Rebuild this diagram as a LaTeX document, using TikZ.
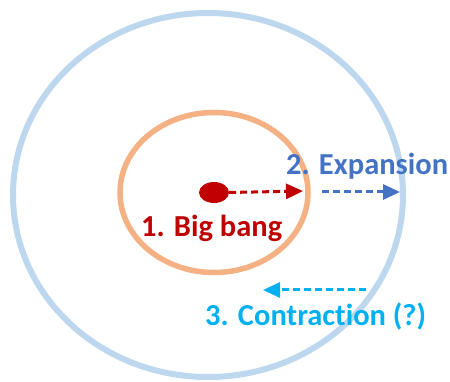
\documentclass[tikz,border=0pt]{standalone}
\usepackage{fontspec}
\setmainfont{Carlito}[Ligatures={NoCommon}]
\usetikzlibrary{arrows.meta,shapes.geometric}
\definecolor{outerblue}{HTML}{BDD7EE}
\definecolor{innerorange}{HTML}{F4B183}
\definecolor{bangred}{HTML}{C00000}
\definecolor{expblue}{HTML}{4472C4}
\definecolor{concyan}{HTML}{00B0F0}
\tikzset{
  lbl/.style={anchor=base west, inner sep=0pt, font=\fontsize{30.5}{36}\selectfont\bfseries},
  dasharrow/.style={line width=3pt, dash pattern=on 7pt off 4pt, -{Triangle[length=17pt,width=15pt]}},
}
\begin{document}
\begin{tikzpicture}[x=1pt,y=-1pt]
\useasboundingbox (0,0) rectangle (450,382);
\draw[outerblue, line width=6pt] (208,195) ellipse [x radius=195, y radius=182];
\draw[innerorange, line width=5.5pt] (214,192.5) ellipse [x radius=94, y radius=80];
\node[fill=bangred, ellipse, minimum width=30pt, minimum height=21pt, inner sep=0pt, draw=none] (dot) at (214,192.5) {};
\coordinate (redend) at (303,191);
\coordinate (bluestart) at (322,192);
\coordinate (blueend) at (400,192);
\coordinate (constart) at (366,290);
\coordinate (conend) at (263,290);
\draw[bangred, dasharrow] (dot.east) -- (redend);
\draw[expblue, dasharrow] (bluestart) -- (blueend);
\draw[concyan, dasharrow] (constart) -- (conend);
\node[lbl, text=expblue] (exp) at (286,175) {2. Expansion};
\node[lbl, text=bangred] (bang) at (141,237) {1. Big bang};
\node[lbl, text=concyan] (con) at (205,325) {3. Contraction (?)};
\end{tikzpicture}
\end{document}
